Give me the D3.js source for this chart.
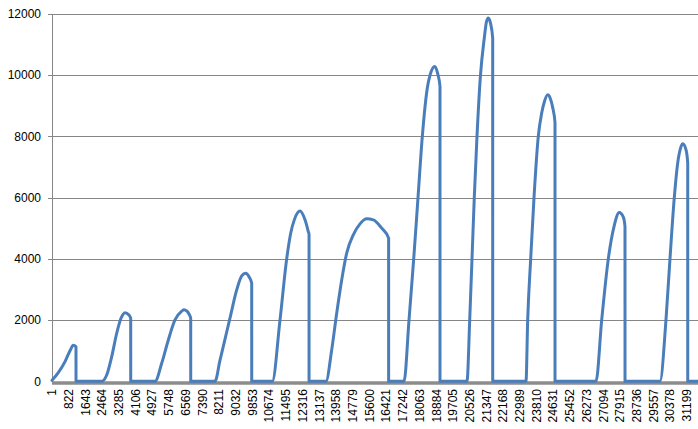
<!DOCTYPE html>
<html>
<head>
<meta charset="utf-8">
<script src="https://cdn.jsdelivr.net/npm/d3@7/dist/d3.min.js"></script>
<style>
  html, body { margin: 0; padding: 0; background: #fff; }
  svg { display: block; }
  text { font-family: "Liberation Sans", Arial, sans-serif; font-size: 12px; fill: #000; }
</style>
</head>
<body>
<svg id="chart" width="698" height="429"></svg>
<script>
const pointIndex = [
  1, 310, 640, 885, 1047, 1180, 1181,
  2443, 2688, 2934, 3180, 3391, 3588, 3784, 3868, 3869,
  5062, 5391, 5716, 6044, 6374, 6487, 6619, 6732, 6816, 6817,
  8010, 8256, 8502, 8748, 9076, 9322, 9518, 9695, 9813, 9814,
  10825, 11203, 11532, 11729, 11906, 12186, 12432, 12594, 12630, 12631,
  13463, 13743, 13989, 14235, 14480, 14805, 15134, 15463, 15787, 16200, 16540, 16541,
  17296, 17542, 17773, 17984, 18196, 18441, 18574, 18805, 18951, 19064, 19065,
  20391, 20524, 20637, 20749, 20882, 21054, 21241, 21349, 21438, 21546, 21654, 21655,
  23290, 23373, 23520, 23683, 23894, 24061, 24199, 24356, 24480, 24600, 24715, 24716,
  26729, 27009, 27334, 27614, 27874, 28071, 28154, 28155,
  29874, 30167, 30364, 30576, 30743, 30877, 30990, 31153, 31236, 31237,
  31741
];
const pointValue = [
  30, 281, 641, 1000, 1177, 1131, 0,
  0, 206, 805, 1570, 2060, 2243, 2168, 2060, 0,
  0, 589, 1350, 2004, 2290, 2340, 2300, 2200, 2060, 0,
  0, 690, 1380, 2070, 2985, 3443, 3531, 3400, 3204, 0,
  0, 2000, 4000, 4839, 5274, 5560, 5274, 4892, 4800, 0,
  0, 1023, 2223, 3313, 4186, 4784, 5143, 5307, 5274, 5003, 4676, 0,
  0, 2000, 4000, 6000, 8000, 9581, 10000, 10287, 10050, 9633, 0,
  0, 2000, 4000, 6000, 8000, 10000, 11216, 11750, 11870, 11700, 11216, 0,
  0, 2000, 4000, 6000, 8000, 8763, 9150, 9362, 9250, 8950, 8450, 0,
  0, 2000, 4000, 5055, 5513, 5362, 5055, 0,
  0, 2000, 4000, 6000, 7128, 7600, 7759, 7564, 7128, 0,
  0
];
const xTickLabels = [
  1, 822, 1643, 2464, 3285, 4106, 4927, 5748, 6569, 7390, 8211, 9032, 9853,
  10674, 11495, 12316, 13137, 13958, 14779, 15600, 16421, 17242, 18063, 18884,
  19705, 20526, 21347, 22168, 22989, 23810, 24631, 25452, 26273, 27094, 27915,
  28736, 29557, 30378, 31199
];
const yTickValues = [0, 2000, 4000, 6000, 8000, 10000, 12000];
const xDomainEnd = 31741;

const svg = d3.select("#chart");
const mLeft = 52, mRight = 698, mTop = 14, mBottom = 381.3;

const x = d3.scaleLinear().domain([1, xDomainEnd]).range([mLeft, mRight]);
const y = d3.scaleLinear().domain([0, 12000]).range([mBottom, mTop]);

// Gridlines
const grid = svg.append("g");
yTickValues.forEach(v => {
  if (v === 0) return;
  grid.append("line")
    .attr("x1", mLeft - 4).attr("x2", mRight)
    .attr("y1", Math.round(y(v)) + 0.5).attr("y2", Math.round(y(v)) + 0.5)
    .attr("stroke", "#868686").attr("stroke-width", 1);
});
grid.append("line")
  .attr("x1", mLeft + 0.5).attr("x2", mLeft + 0.5)
  .attr("y1", mTop).attr("y2", mBottom)
  .attr("stroke", "#868686").attr("stroke-width", 1);

svg.append("g").selectAll("text").data(yTickValues).join("text")
  .attr("x", 41).attr("y", d => y(d))
  .attr("dy", "0.35em")
  .attr("text-anchor", "end")
  .text(d => d);

// X axis thick line
svg.append("line")
  .attr("x1", mLeft).attr("x2", mRight)
  .attr("y1", mBottom + 1.7).attr("y2", mBottom + 1.7)
  .attr("stroke", "#8c8c8c").attr("stroke-width", 3.5);

// Data line
const data = pointIndex.map((d, i) => ({ i: d, v: pointValue[i] }));
const line = d3.line().x(d => x(d.i)).y(d => y(d.v)).curve(d3.curveMonotoneX);
svg.append("path")
  .datum(data)
  .attr("d", line)
  .attr("fill", "none")
  .attr("stroke", "#4a7ebb")
  .attr("stroke-width", 3)
  .attr("stroke-linejoin", "round")
  .attr("stroke-linecap", "round");

// X labels rotated
svg.append("g").selectAll("text").data(xTickLabels).join("text")
  .attr("transform", d => `translate(${x(d)},389) rotate(-90)`)
  .attr("dy", "0.35em")
  .attr("text-anchor", "end")
  .text(d => d);
</script>
</body>
</html>
